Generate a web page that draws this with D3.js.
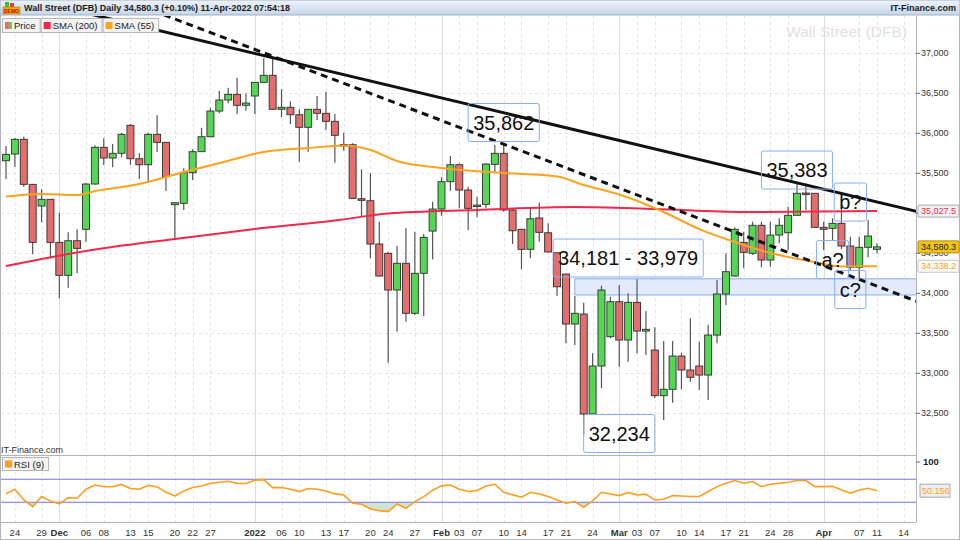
<!DOCTYPE html>
<html>
<head>
<meta charset="utf-8">
<script src="https://cdn.jsdelivr.net/npm/d3@7"></script>
<style>
  html, body { margin: 0; padding: 0; background: #fff; }
  svg { display: block; font-family: "Liberation Sans", Arial, sans-serif; }
</style>
</head>
<body>
<div id="chart"></div>
<script>
// ---- data ----
const DATES = [
  "2021-11-23","2021-11-24","2021-11-25","2021-11-26","2021-11-29","2021-11-30",
  "2021-12-01","2021-12-02","2021-12-03","2021-12-06","2021-12-07","2021-12-08","2021-12-09","2021-12-10",
  "2021-12-13","2021-12-14","2021-12-15","2021-12-16","2021-12-17","2021-12-20","2021-12-21","2021-12-22",
  "2021-12-23","2021-12-27","2021-12-28","2021-12-29","2021-12-30","2021-12-31",
  "2022-01-03","2022-01-04","2022-01-05","2022-01-06","2022-01-07","2022-01-10","2022-01-11","2022-01-12",
  "2022-01-13","2022-01-14","2022-01-17","2022-01-18","2022-01-19","2022-01-20","2022-01-21","2022-01-24",
  "2022-01-25","2022-01-26","2022-01-27","2022-01-28","2022-01-31",
  "2022-02-01","2022-02-02","2022-02-03","2022-02-04","2022-02-07","2022-02-08","2022-02-09","2022-02-10",
  "2022-02-11","2022-02-14","2022-02-15","2022-02-16","2022-02-17","2022-02-18","2022-02-21","2022-02-22",
  "2022-02-23","2022-02-24","2022-02-25","2022-02-28",
  "2022-03-01","2022-03-02","2022-03-03","2022-03-04","2022-03-07","2022-03-08","2022-03-09","2022-03-10",
  "2022-03-11","2022-03-14","2022-03-15","2022-03-16","2022-03-17","2022-03-18","2022-03-21","2022-03-22",
  "2022-03-23","2022-03-24","2022-03-25","2022-03-28","2022-03-29","2022-03-30","2022-03-31",
  "2022-04-01","2022-04-04","2022-04-05","2022-04-06","2022-04-07","2022-04-08","2022-04-11"
];
const FUTURE_DATES = ["2022-04-12", "2022-04-13", "2022-04-14"];

const OPEN = [
  35657,35741,35925,35362,35091,35175,34637,34225,34657,34800,35366,35825,35691,35750,
  36100,35682,35607,35987,35887,35107,35125,35507,35770,35957,36278,36416,36487,36350,
  36466,36637,36725,36300,36325,36232,36075,36300,36250,36150,35853,35857,35182,35157,34616,34500,
  34041,34375,33750,34250,34778,
  35053,35395,35607,35291,35097,35112,35612,35750,35041,34800,34550,34941,34757,34507,34241,33616,
  33741,32491,33091,33457,
  33895,33416,33887,33528,33291,32720,32800,33216,33041,33091,32978,33478,33991,34216,34637,34500,
  34850,34416,34728,34757,34975,35253,35250,
  34825,34812,34875,34591,34325,34575,34550
];
const HIGH = [
  35841,35941,35957,35366,35300,35178,35007,34762,34800,35382,35850,35937,35866,36007,
  36116,35750,36007,36225,35891,35135,35562,35800,36070,36320,36532,36570,36695,36500,
  36641,36937,36957,36550,36400,36300,36303,36466,36520,36241,36007,35875,35550,35500,34895,34516,
  34591,34812,34770,34741,35145,
  35450,35716,35625,35332,35207,35625,35853,35862,35062,34803,35062,35132,34875,34510,34241,33966,
  33882,33250,34095,33957,
  34103,34000,34175,33778,33575,33403,33403,33257,33687,33395,33603,34166,34500,34825,34770,34895,
  34895,34895,34937,35082,35383,35375,35253,
  34895,34937,35187,34707,34707,34916,34625
];
const LOW = [
  35428,35582,35332,34487,34887,34437,33937,34070,34250,34641,35360,35603,35575,35700,
  35607,35428,35382,35766,35278,34675,35041,35416,35766,35953,36250,36375,36241,36282,
  36241,36635,36297,36200,36116,35645,35770,36166,36041,35632,35782,35185,34957,34437,34210,33132,
  33520,33645,33728,33716,34425,
  34970,35282,35062,34791,34950,35062,35520,35020,34616,34300,34437,34645,34512,33966,33375,33353,
  32234,32485,32812,33437,
  33082,33145,33250,33228,32687,32416,32632,32800,32895,32791,32666,33375,33853,34207,34312,34478,
  34325,34332,34625,34541,34972,35041,34822,
  34541,34666,34550,34291,34187,34450,34500
];
const CLOSE = [
  35737,35925,35362,34637,35175,34637,34225,34657,34562,35366,35825,35691,35750,35987,
  35682,35607,35987,35887,35457,35132,35507,35770,35957,36278,36416,36487,36350,36378,
  36637,36725,36300,36325,36232,36075,36300,36250,36150,35975,35860,35187,35162,34616,34216,34041,
  34375,33750,34250,34700,35053,
  35395,35607,35291,35062,35103,35616,35750,35041,34782,34550,34932,34762,34516,34082,33616,33750,
  32491,33091,34041,33895,
  33416,33887,33528,33550,32720,32800,33216,33041,32950,32978,33478,33991,34270,34800,34512,34850,
  34416,34728,34850,34975,35250,35246,34825,
  34800,34875,34591,34325,34575,34716,34580.3
];
const RSI_9 = [
  44.5,52.6,34,22.5,40,32,27,38,37,52.6,60,57,57,61,
  54,52.6,59.6,56.7,47.4,41,49.7,55.5,58.4,63,64.8,66.5,62.5,62.5,
  68.3,69.4,55.5,55.5,52.6,48.6,53.8,52.6,49.7,44.5,42.5,28.2,26.5,18.3,15.4,13.7,
  27,19.5,31,39.7,51,
  58.5,60,52.6,48.6,50.3,58.4,61.3,47.4,42.8,38.7,47.4,44.5,39.9,34,28.3,31.2,
  21.3,32.3,47.4,44.5,
  41.6,46.8,42.8,43.9,34,35.2,41.6,41,39.9,39.9,48.6,57.2,63,67.7,63,66,
  57.2,61.3,63,64.8,67.7,67.7,57.2,
  57.2,57.8,51.4,45.7,51.4,54.3,50.156
];
const SMA_200 = [
  ["2021-11-23", 34341], ["2021-12-06", 34529], ["2021-12-20", 34679], ["2022-01-03", 34804],
  ["2022-01-14", 34910], ["2022-01-24", 34997], ["2022-02-07", 35041], ["2022-02-22", 35078],
  ["2022-03-07", 35053], ["2022-03-21", 35016], ["2022-04-11", 35027.5]
];
const SMA_55 = [
  ["2021-11-23", 35210], ["2021-11-29", 35241], ["2021-12-03", 35228], ["2021-12-07", 35278],
  ["2021-12-14", 35366], ["2021-12-21", 35516], ["2021-12-28", 35628], ["2022-01-04", 35766],
  ["2022-01-11", 35816], ["2022-01-17", 35847], ["2022-01-20", 35791], ["2022-01-25", 35653],
  ["2022-02-01", 35566], ["2022-02-10", 35503], ["2022-02-18", 35460], ["2022-02-23", 35353],
  ["2022-03-01", 35235], ["2022-03-08", 35016], ["2022-03-14", 34803], ["2022-03-18", 34641],
  ["2022-03-24", 34503], ["2022-03-31", 34391], ["2022-04-05", 34335], ["2022-04-11", 34338.2]
];
const TRENDLINE_SOLID = [["2021-12-15", 37317], ["2022-04-11", 35142]];
const TRENDLINE_DASHED = [["2021-12-15", 37555], ["2022-04-11", 34089]];
const SUPPORT_ZONE = [33979, 34181];
const SUPPORT_ZONE_START = "2022-02-22";
const ANNOTATIONS = [
  ["35,862", "2022-02-10", 36135],
  ["35,383", "2022-03-29", 35541],
  ["34,181 - 33,979", "2022-03-02", 34441],
  ["32,234", "2022-03-01", 32247],
  ["b?", "2022-04-06", 35141],
  ["a?", "2022-04-04", 34422],
  ["c?", "2022-04-06", 34047]
];
const PRICE_TICKS = [32500, 33000, 33500, 34000, 34500, 35000, 35500, 36000, 36500, 37000];
const TICK_DATES = [
  "2021-11-24","2021-11-29","2021-12-01","2021-12-06","2021-12-08","2021-12-13","2021-12-15",
  "2021-12-20","2021-12-22","2021-12-27","2022-01-03","2022-01-06","2022-01-10","2022-01-13",
  "2022-01-17","2022-01-20","2022-01-24","2022-01-27","2022-02-01","2022-02-03","2022-02-07",
  "2022-02-10","2022-02-14","2022-02-17","2022-02-21","2022-02-24","2022-03-01","2022-03-03",
  "2022-03-07","2022-03-10","2022-03-14","2022-03-17","2022-03-21","2022-03-24","2022-03-28",
  "2022-04-01","2022-04-07","2022-04-11","2022-04-14"
];
const LAST_PRICE = 34580.3;
const LAST_RSI = 50.156;

// ---- layout ----
const WIDTH = 960, HEIGHT = 540;
const PLOT = { left: 1, right: 916, top: 16, bottom: 455.5 };
const RSI_PANEL = { top: 455.5, bottom: 522.5 };
const COLORS = {
  up: "#55d655", down: "#e46e6e", sma200: "#f0284c", sma55: "#ffa21e",
  rsi: "#ff9d1c", band: "#7272ee", box: "#86aef0", grid: "#e2e2e2"
};

const ALL_DATES = DATES.concat(FUTURE_DATES);
const INDEX = new Map(ALL_DATES.map((d, i) => [d, i]));
const parse = d3.timeParse("%Y-%m-%d");

const X = d3.scaleLinear().domain([0, DATES.length - 1]).range([6, 877]);
const Y = d3.scaleLinear().domain([32500, 37000]).range([413.3, 53.3]);
const Y_RSI = d3.scaleLinear().domain([0, 100]).range([519.5, 462]);
const xd = (d) => X(INDEX.get(d));

const svg = d3.select("#chart").append("svg")
  .attr("width", WIDTH).attr("height", HEIGHT);
const defs = svg.append("defs");

defs.append("clipPath").attr("id", "clip-main").append("rect")
  .attr("x", PLOT.left).attr("y", PLOT.top)
  .attr("width", PLOT.right - PLOT.left).attr("height", PLOT.bottom - PLOT.top);
defs.append("clipPath").attr("id", "clip-rsi").append("rect")
  .attr("x", PLOT.left).attr("y", RSI_PANEL.top)
  .attr("width", PLOT.right - PLOT.left).attr("height", RSI_PANEL.bottom - RSI_PANEL.top);
defs.append("clipPath").attr("id", "clip-oversold").append("rect")
  .attr("x", PLOT.left).attr("y", Y_RSI(30))
  .attr("width", PLOT.right - PLOT.left).attr("height", RSI_PANEL.bottom - Y_RSI(30));

const grad = defs.append("linearGradient").attr("id", "header-grad")
  .attr("x1", 0).attr("y1", 0).attr("x2", 0).attr("y2", 1);
grad.append("stop").attr("offset", "0%").attr("stop-color", "#eef3f9");
grad.append("stop").attr("offset", "100%").attr("stop-color", "#c6d5e6");

// ---- grid ----
const grid = svg.append("g");
const monthStarts = new Set();
TICK_DATES.forEach((d, i) => {
  if (i === 0 || d.slice(0, 7) !== TICK_DATES[i - 1].slice(0, 7)) monthStarts.add(d);
});
monthStarts.delete(TICK_DATES[0]);

grid.selectAll("line.v")
  .data(TICK_DATES)
  .enter()
  .append("line")
  .attr("x1", (d) => Math.round(xd(d)) + 0.5)
  .attr("x2", (d) => Math.round(xd(d)) + 0.5)
  .attr("y1", PLOT.top)
  .attr("y2", RSI_PANEL.bottom)
  .attr("stroke", (d) => (monthStarts.has(d) ? "#dcdcdc" : "#e6e6e6"))
  .attr("stroke-dasharray", (d) => (monthStarts.has(d) ? null : "3,3"));

grid.selectAll("line.h")
  .data(PRICE_TICKS)
  .enter()
  .append("line")
  .attr("x1", PLOT.left)
  .attr("x2", PLOT.right)
  .attr("y1", (d) => Math.round(Y(d)) + 0.5)
  .attr("y2", (d) => Math.round(Y(d)) + 0.5)
  .attr("stroke", "#e6e6e6")
  .attr("stroke-dasharray", "3,3");

// ---- watermark ----
svg.append("text")
  .attr("x", 907).attr("y", 37)
  .attr("text-anchor", "end")
  .style("font-size", "15.5px")
  .attr("fill", "#e2e2e2")
  .text("Wall Street (DFB)");

const main = svg.append("g").attr("clip-path", "url(#clip-main)");

// support zone
main.append("rect")
  .attr("x", xd(SUPPORT_ZONE_START))
  .attr("y", Y(SUPPORT_ZONE[1]))
  .attr("width", PLOT.right + 2 - xd(SUPPORT_ZONE_START))
  .attr("height", Y(SUPPORT_ZONE[0]) - Y(SUPPORT_ZONE[1]))
  .attr("fill", "#e3eafc")
  .attr("stroke", COLORS.box)
  .attr("stroke-width", 1);

// candles
const candles = DATES.map((d, i) => ({
  date: d, open: OPEN[i], high: HIGH[i], low: LOW[i], close: CLOSE[i]
}));
const BODY_W = 7;

main.selectAll("line.wick")
  .data(candles)
  .enter()
  .append("line")
  .attr("x1", (d) => xd(d.date))
  .attr("x2", (d) => xd(d.date))
  .attr("y1", (d) => Y(d.high))
  .attr("y2", (d) => Y(d.low))
  .attr("stroke", "#555")
  .attr("stroke-width", 1.2);

main.selectAll("rect.body")
  .data(candles)
  .enter()
  .append("rect")
  .attr("x", (d) => xd(d.date) - BODY_W / 2)
  .attr("y", (d) => Y(Math.max(d.open, d.close)))
  .attr("width", BODY_W)
  .attr("height", (d) => Math.max(1.5, Math.abs(Y(d.open) - Y(d.close))))
  .attr("fill", (d) => (d.close >= d.open ? COLORS.up : COLORS.down))
  .attr("stroke", "#2e2e2e")
  .attr("stroke-width", 0.9);

// moving averages
const smaLine = d3.line()
  .x((d) => xd(d[0]))
  .y((d) => Y(d[1]))
  .curve(d3.curveMonotoneX);

main.append("path")
  .attr("d", smaLine(SMA_200))
  .attr("fill", "none")
  .attr("stroke", COLORS.sma200)
  .attr("stroke-width", 2);

main.append("path")
  .attr("d", smaLine(SMA_55))
  .attr("fill", "none")
  .attr("stroke", COLORS.sma55)
  .attr("stroke-width", 2);

// trend lines, extended across the plot
function extendLine(pts) {
  const i0 = INDEX.get(pts[0][0]), i1 = INDEX.get(pts[1][0]);
  const slope = (pts[1][1] - pts[0][1]) / (i1 - i0);
  const a = -10, b = 110;
  return [[X(a), Y(pts[0][1] + slope * (a - i0))], [X(b), Y(pts[0][1] + slope * (b - i0))]];
}
const ext1 = extendLine(TRENDLINE_SOLID);
main.append("line")
  .attr("x1", ext1[0][0]).attr("y1", ext1[0][1])
  .attr("x2", ext1[1][0]).attr("y2", ext1[1][1])
  .attr("stroke", "#111").attr("stroke-width", 3);

const ext2 = extendLine(TRENDLINE_DASHED);
main.append("line")
  .attr("x1", ext2[0][0]).attr("y1", ext2[0][1])
  .attr("x2", ext2[1][0]).attr("y2", ext2[1][1])
  .attr("stroke", "#111").attr("stroke-width", 3)
  .attr("stroke-dasharray", "7,5");

// annotation boxes
const notes = main.selectAll("g.note")
  .data(ANNOTATIONS)
  .enter()
  .append("g")
  .attr("transform", (d) => `translate(${xd(d[1])},${Y(d[2])})`);
notes.append("text")
  .attr("text-anchor", "middle")
  .attr("dy", "0.35em")
  .style("font-size", "20px")
  .attr("fill", "#111")
  .text((d) => d[0]);
notes.each(function () {
  const g = d3.select(this);
  const bb = g.select("text").node().getBBox();
  g.insert("rect", "text")
    .attr("x", bb.x - 5)
    .attr("y", -19)
    .attr("width", bb.width + 10)
    .attr("height", 38)
    .attr("rx", 2)
    .attr("fill", "none")
    .attr("stroke", COLORS.box)
    .attr("stroke-width", 1);
});

// ---- RSI panel ----
const rsiData = RSI_9.map((v, i) => [i, v]);
const rsiG = svg.append("g").attr("clip-path", "url(#clip-rsi)");

rsiG.append("path")
  .attr("clip-path", "url(#clip-oversold)")
  .attr("d", d3.area().x((d) => X(d[0])).y0(Y_RSI(30)).y1((d) => Y_RSI(d[1]))(rsiData))
  .attr("fill", "#d0e4d2");

[70, 30].forEach((lvl) => {
  rsiG.append("line")
    .attr("x1", PLOT.left).attr("x2", PLOT.right)
    .attr("y1", Y_RSI(lvl)).attr("y2", Y_RSI(lvl))
    .attr("stroke", COLORS.band).attr("stroke-width", 1.2);
});

rsiG.append("path")
  .attr("d", d3.line().x((d) => X(d[0])).y((d) => Y_RSI(d[1]))(rsiData))
  .attr("fill", "none")
  .attr("stroke", COLORS.rsi)
  .attr("stroke-width", 1.6);

// ---- frame ----
const frame = svg.append("g").attr("stroke", "#b4b4b4").attr("fill", "none");
frame.append("line").attr("x1", 0).attr("x2", PLOT.right).attr("y1", PLOT.bottom).attr("y2", PLOT.bottom);
frame.append("line").attr("x1", 0).attr("x2", PLOT.right).attr("y1", RSI_PANEL.bottom).attr("y2", RSI_PANEL.bottom);
frame.append("line").attr("x1", PLOT.right + 0.5).attr("x2", PLOT.right + 0.5).attr("y1", PLOT.top).attr("y2", RSI_PANEL.bottom);
frame.append("rect").attr("x", 0.5).attr("y", 0.5).attr("width", WIDTH - 1).attr("height", HEIGHT - 1);

// value tags on the price axis
const TAGS = [
  [SMA_200[SMA_200.length - 1][1], "#f2f2f2", "#a9a9a9", COLORS.sma200],
  [SMA_55[SMA_55.length - 1][1], "#fbfbfb", "#c4c4c4", COLORS.sma55],
  [LAST_PRICE, "#f3c419", "#b38f00", "#222"]
];

// ---- price axis (labels hidden right under a value tag) ----
const visibleTicks = PRICE_TICKS.filter((t) => TAGS.every((g) => Math.abs(Y(t) - Y(g[0])) > 4));
const yAxis = svg.append("g");
yAxis.selectAll("line")
  .data(PRICE_TICKS)
  .enter()
  .append("line")
  .attr("x1", PLOT.right).attr("x2", PLOT.right + 4)
  .attr("y1", (d) => Y(d)).attr("y2", (d) => Y(d))
  .attr("stroke", "#666");
yAxis.selectAll("text")
  .data(visibleTicks)
  .enter()
  .append("text")
  .attr("x", PLOT.right + 5)
  .attr("y", (d) => Y(d))
  .attr("dy", "0.35em")
  .style("font-size", "9px")
  .attr("fill", "#333")
  .text((d) => d3.format(",")(d));

const tag = svg.selectAll("g.tag")
  .data(TAGS)
  .enter()
  .append("g")
  .attr("transform", (d) => `translate(${PLOT.right + 2},${Y(d[0])})`);
tag.append("rect")
  .attr("x", 0).attr("y", -6).attr("width", 41).attr("height", 12).attr("rx", 1)
  .attr("fill", (d) => d[1]).attr("stroke", (d) => d[2]);
tag.append("text")
  .attr("x", 3).attr("dy", "0.35em")
  .style("font-size", "9px")
  .attr("fill", (d) => d[3])
  .text((d) => d3.format(",.1f")(d[0]));

// RSI axis
svg.append("text")
  .attr("x", 923).attr("y", Y_RSI(100)).attr("dy", "0.35em")
  .style("font-size", "9.5px").style("font-weight", "bold").attr("fill", "#222")
  .text("100");
svg.append("line")
  .attr("x1", PLOT.right).attr("x2", PLOT.right + 4)
  .attr("y1", Y_RSI(100)).attr("y2", Y_RSI(100)).attr("stroke", "#666");
const rsiTag = svg.append("g").attr("transform", `translate(${PLOT.right + 4},${Y_RSI(LAST_RSI)})`);
rsiTag.append("rect").attr("x", 0).attr("y", -6.5).attr("width", 30).attr("height", 13)
  .attr("fill", "#efefef").attr("stroke", "#a9a9a9");
rsiTag.append("text").attr("x", 2).attr("dy", "0.35em")
  .style("font-size", "9px").attr("fill", COLORS.rsi)
  .text(d3.format(".3f")(LAST_RSI));

// ---- date axis ----
const fmtDay = d3.timeFormat("%d"), fmtMonth = d3.timeFormat("%b"), fmtYear = d3.timeFormat("%Y");
svg.selectAll("text.date")
  .data(TICK_DATES)
  .enter()
  .append("text")
  .attr("x", (d) => xd(d))
  .attr("y", 535.5)
  .attr("text-anchor", "middle")
  .style("font-size", "9.5px")
  .style("font-weight", (d) => (monthStarts.has(d) ? "bold" : "normal"))
  .attr("fill", "#333")
  .text((d) => {
    const t = parse(d);
    if (!monthStarts.has(d)) return fmtDay(t);
    return t.getMonth() === 0 ? fmtYear(t) : fmtMonth(t);
  });

// ---- header ----
svg.append("rect")
  .attr("x", 0).attr("y", 0).attr("width", WIDTH).attr("height", 15)
  .attr("fill", "url(#header-grad)").attr("stroke", "#9fb2c6");
const icon = svg.append("g").attr("transform", "translate(3,2)");
icon.append("rect").attr("x", 2).attr("y", 0).attr("width", 4).attr("height", 5).attr("fill", "#3cbf3c");
icon.append("rect").attr("x", 7).attr("y", 1).attr("width", 4).attr("height", 4).attr("fill", "#e03c3c");
icon.append("rect").attr("x", 0).attr("y", 5).attr("width", 17).attr("height", 7).attr("fill", "#f0b000").attr("stroke", "#9a7000").attr("stroke-width", 0.5);
icon.append("text").attr("x", 8.5).attr("y", 10.5).attr("text-anchor", "middle")
  .style("font-size", "5px").style("font-weight", "bold").attr("fill", "#c00000").text("DEMO");

svg.append("text")
  .attr("x", 24).attr("y", 11)
  .style("font-size", "9px").style("font-weight", "bold").attr("fill", "#1a1a1a")
  .text("Wall Street (DFB) Daily 34,580.3 (+0.10%) 11-Apr-2022 07:54:18");
svg.append("text")
  .attr("x", 956).attr("y", 11).attr("text-anchor", "end")
  .style("font-size", "9px").style("font-weight", "bold").attr("fill", "#1a1a1a")
  .text("IT-Finance.com");

// ---- legends ----
const LEGEND = [["Price", null], ["SMA (200)", COLORS.sma200], ["SMA (55)", COLORS.sma55]];
let lx = 2;
LEGEND.forEach(([label, color]) => {
  const g = svg.append("g").attr("transform", `translate(${lx},18)`);
  const txt = g.append("text").attr("x", 12).attr("y", 11)
    .style("font-size", "9.5px").attr("fill", "#222").text(label);
  const w = txt.node().getComputedTextLength() + 16;
  g.insert("rect", "text").attr("x", 0.5).attr("y", 0.5).attr("width", w).attr("height", 14)
    .attr("fill", "#f3f3f3").attr("stroke", "#b5b5b5");
  if (color) {
    g.append("rect").attr("x", 3).attr("y", 4).attr("width", 7).attr("height", 7).attr("fill", color);
  } else {
    g.append("rect").attr("x", 3).attr("y", 4).attr("width", 4).attr("height", 7).attr("fill", COLORS.down);
    g.append("rect").attr("x", 7).attr("y", 4).attr("width", 3).attr("height", 7).attr("fill", COLORS.up);
  }
  lx += w + 1;
});

svg.append("text")
  .attr("x", 1).attr("y", 453)
  .style("font-size", "9px").attr("fill", "#333")
  .text("IT-Finance.com");

const rsiLegend = svg.append("g").attr("transform", "translate(2,457)");
const rsiTxt = rsiLegend.append("text").attr("x", 12).attr("y", 10.5)
  .style("font-size", "9.5px").attr("fill", "#222").text("RSI (9)");
rsiLegend.insert("rect", "text").attr("x", 0.5).attr("y", 0.5)
  .attr("width", rsiTxt.node().getComputedTextLength() + 16).attr("height", 13)
  .attr("fill", "#f3f3f3").attr("stroke", "#b5b5b5");
rsiLegend.append("rect").attr("x", 3).attr("y", 3.5).attr("width", 7).attr("height", 7).attr("fill", COLORS.rsi);
</script>
</body>
</html>
